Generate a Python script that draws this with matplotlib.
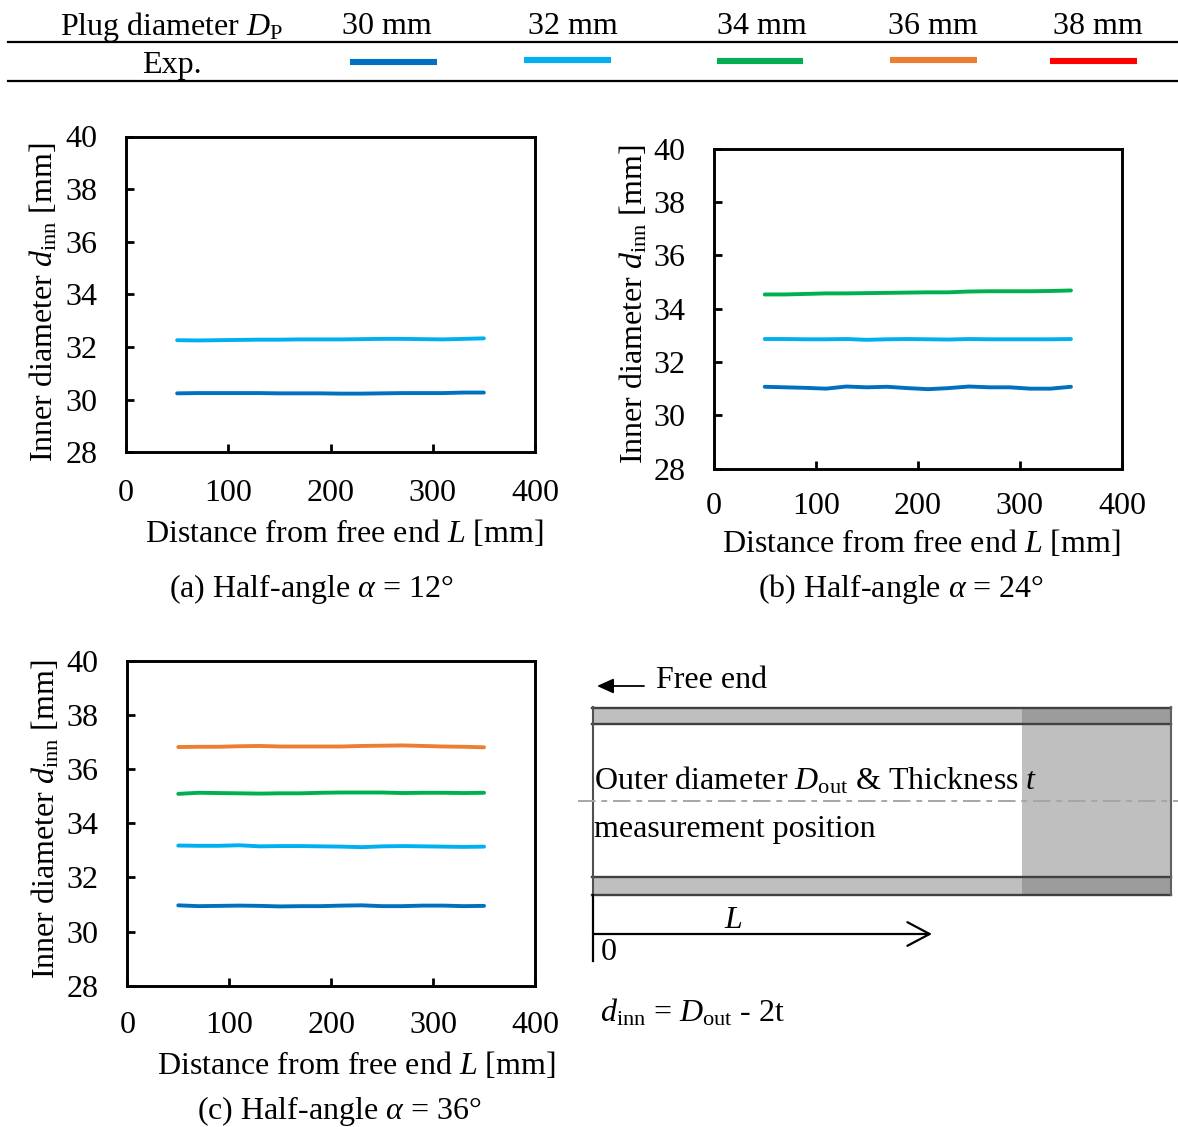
import matplotlib
matplotlib.use("Agg")
import matplotlib.pyplot as plt
from matplotlib.patches import Rectangle

plt.rcParams['font.family'] = ['Liberation Serif', 'DejaVu Serif']
plt.rcParams['mathtext.fontset'] = 'custom'
plt.rcParams['mathtext.rm'] = 'Liberation Serif'
plt.rcParams['mathtext.it'] = 'Liberation Serif:italic'
plt.rcParams['mathtext.bf'] = 'Liberation Serif:bold'

W, H = 1178, 1127
FS = 23

distance = [50, 70, 90, 110, 130, 150, 170, 190, 210, 230, 250, 270, 290, 310, 330, 350]

a_30 = [30.24, 30.25, 30.25, 30.25, 30.25, 30.24, 30.24, 30.24, 30.23, 30.23, 30.24, 30.25, 30.25, 30.25, 30.27, 30.27]
a_32 = [32.26, 32.25, 32.26, 32.27, 32.28, 32.28, 32.29, 32.29, 32.29, 32.30, 32.31, 32.31, 32.30, 32.29, 32.31, 32.33]

b_30 = [31.07, 31.05, 31.03, 31.00, 31.08, 31.05, 31.07, 31.02, 30.98, 31.02, 31.08, 31.05, 31.05, 31.00, 31.00, 31.07]
b_32 = [32.86, 32.86, 32.85, 32.85, 32.86, 32.83, 32.85, 32.86, 32.85, 32.84, 32.86, 32.85, 32.85, 32.85, 32.85, 32.86]
b_34 = [34.53, 34.53, 34.55, 34.57, 34.57, 34.58, 34.59, 34.60, 34.61, 34.61, 34.64, 34.65, 34.65, 34.65, 34.66, 34.68]

c_30 = [30.97, 30.94, 30.95, 30.96, 30.95, 30.93, 30.94, 30.94, 30.96, 30.97, 30.94, 30.94, 30.96, 30.96, 30.94, 30.95]
c_32 = [33.18, 33.17, 33.17, 33.19, 33.15, 33.16, 33.16, 33.15, 33.14, 33.12, 33.15, 33.16, 33.15, 33.14, 33.13, 33.14]
c_34 = [35.09, 35.13, 35.12, 35.11, 35.10, 35.11, 35.11, 35.13, 35.14, 35.14, 35.14, 35.12, 35.13, 35.13, 35.12, 35.13]
c_36 = [36.82, 36.83, 36.83, 36.85, 36.86, 36.84, 36.84, 36.84, 36.84, 36.86, 36.87, 36.88, 36.86, 36.84, 36.83, 36.81]

xticks = [0, 100, 200, 300, 400]
yticks = [28, 30, 32, 34, 36, 38, 40]

plug_labels = ['30 mm', '32 mm', '34 mm', '36 mm', '38 mm']
colors = ['#0070C0', '#00B0F0', '#00B050', '#ED7D31', '#FF0000']

fig = plt.figure(figsize=(W / 100, H / 100), dpi=100)


def make_panel(left, right, top, bottom, series, caption, xlab, cap, ylab, xpad):
    ax = fig.add_axes([left / W, 1 - bottom / H, (right - left) / W, (bottom - top) / H])
    for values, color in series:
        ax.plot(distance, values, color=color, lw=2.8, solid_capstyle='round', solid_joinstyle='round')
    ax.set_xlim(0, 400)
    ax.set_ylim(28, 40)
    ax.set_xticks(xticks)
    ax.set_yticks(yticks)
    ax.tick_params(direction='in', length=6, width=2.0, labelsize=FS)
    ax.tick_params(axis='y', pad=20.5)
    ax.tick_params(axis='x', pad=xpad)
    for s in ax.spines.values():
        s.set_linewidth(2.1)
    over.text(ylab[0], ylab[1], r'Inner diameter $d_{\mathrm{inn}}$ [mm]', fontsize=FS,
              rotation=90, ha='center', va='center')
    over.text(xlab[0], xlab[1], r'Distance from free end $L$ [mm]', fontsize=FS, ha='center', va='center')
    over.text(cap[0], cap[1], caption, fontsize=FS, ha='center', va='center')
    return ax


# pixel coordinate layer for the table, labels and the schematic
over = fig.add_axes([0, 0, 1, 1], zorder=5)
over.set_xlim(0, W)
over.set_ylim(H, 0)
over.axis('off')
over.patch.set_alpha(0)

# legend table
over.plot([8, 1178], [42, 42], color='k', lw=1.6)
over.plot([8, 1178], [81, 81], color='k', lw=1.6)
over.text(172, 27, r'Plug diameter $D_{\mathrm{P}}$', fontsize=FS, ha='center', va='center')
over.text(172, 65, 'Exp.', fontsize=FS, ha='center', va='center')
label_x = [387, 573, 762, 933, 1098]
bar_x = [(350, 437), (524, 611), (717, 803), (890, 977), (1050, 1137)]
bar_y = [61.5, 59.5, 60.5, 59.5, 60.5]
for lab, lx, (x0, x1), by, col in zip(plug_labels, label_x, bar_x, bar_y, colors):
    over.text(lx, 27, lab, fontsize=FS, ha='center', va='center')
    over.plot([x0, x1], [by, by], color=col, lw=4.4, solid_capstyle='butt')

make_panel(126, 535, 136.5, 452.3, [(a_30, colors[0]), (a_32, colors[1])],
           r'(a) Half-angle $\alpha$ = 12°', (344, 533), (311, 589), (44, 302), 19)
make_panel(713.7, 1122, 148.5, 468.7, [(b_30, colors[0]), (b_32, colors[1]), (b_34, colors[2])],
           r'(b) Half-angle $\alpha$ = 24°', (921, 543), (901, 589), (634, 304), 17)
make_panel(127.3, 535, 661, 985.7, [(c_30, colors[0]), (c_32, colors[1]), (c_34, colors[2]), (c_36, colors[3])],
           r'(c) Half-angle $\alpha$ = 36°', (356, 1065), (339, 1111), (46, 819), 18)

# schematic of the tube
over.add_patch(Rectangle((1022, 707), 148, 188, fc='#BFBFBF', ec='none'))
over.add_patch(Rectangle((593, 707), 429, 17, fc='#BFBFBF', ec='none'))
over.add_patch(Rectangle((593, 877), 429, 18, fc='#BFBFBF', ec='none'))
over.add_patch(Rectangle((1022, 707), 148, 17, fc='#9C9C9C', ec='none'))
over.add_patch(Rectangle((1022, 877), 148, 18, fc='#9C9C9C', ec='none'))
for yy in [707.5, 724, 877, 895]:
    over.plot([592, 1171], [yy, yy], color='#404040', lw=1.7)
over.plot([593, 593], [707, 895], color='#505050', lw=1.5)
over.plot([1170.5, 1170.5], [707, 895], color='#606060', lw=1.5)
over.plot([578, 1178], [801, 801], color='#A6A6A6', lw=1.4, linestyle=(0, (9, 3, 3, 3)))

over.annotate('', xy=(597, 686), xytext=(644, 686),
              arrowprops=dict(arrowstyle='-|>,head_length=1.0,head_width=0.45', color='k', lw=1.3, shrinkA=0, shrinkB=0))
over.text(656, 681, 'Free end', fontsize=FS, ha='left', va='center')
over.text(594, 781, r'Outer diameter $D_{\mathrm{out}}$ & Thickness $t$', fontsize=FS, ha='left', va='center')
over.text(594, 829, 'measurement position', fontsize=FS, ha='left', va='center')

over.plot([593, 593], [895, 961], color='k', lw=1.6)
over.annotate('', xy=(932, 934), xytext=(593, 934),
              arrowprops=dict(arrowstyle='->,head_length=1.6,head_width=0.85', color='k', lw=1.6, shrinkA=0, shrinkB=0))
over.text(733, 921, r'$L$', fontsize=FS, ha='center', va='center')
over.text(609, 952, '0', fontsize=FS, ha='center', va='center')
over.text(600, 1013, r'$d_{\mathrm{inn}}$ = $D_{\mathrm{out}}$ - 2t', fontsize=FS, ha='left', va='center')

plt.savefig('out.png', dpi=100)
plt.close()
